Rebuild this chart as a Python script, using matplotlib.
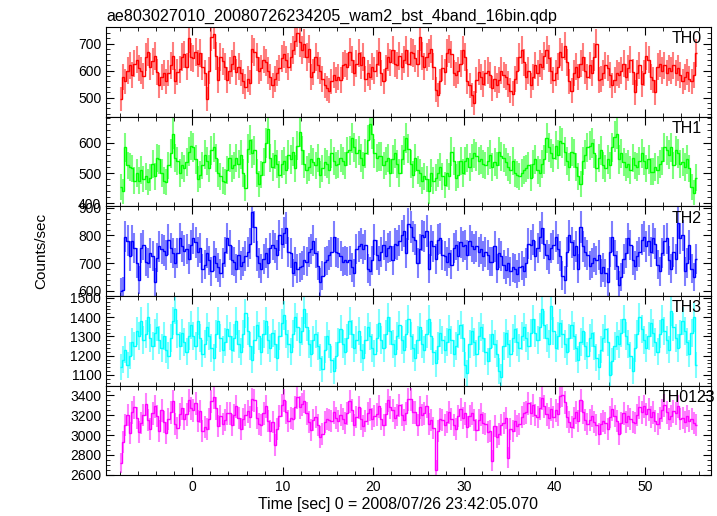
import numpy as np
import matplotlib
matplotlib.use('Agg')
import matplotlib.pyplot as plt
from matplotlib.ticker import MultipleLocator

plt.rcParams['font.family'] = ['Liberation Sans', 'DejaVu Sans']

title = 'ae803027010_20080726234205_wam2_bst_4band_16bin.qdp'
xlabel = 'Time [sec] 0 = 2008/07/26 23:42:05.070'
t_start = -8.0   # first bin edge (sec)
binsize = 0.25   # sec

# count rates (counts/sec), 4 s per row
th0 = [
    495, 575, 560, 600, 620, 585, 625, 640, 610, 600, 580, 650, 670, 615, 635, 655,
    595, 545, 575, 590, 560, 590, 620, 655, 560, 595, 605, 650, 660, 615, 720, 650,
    645, 670, 625, 665, 615, 590, 495, 600, 725, 735, 655, 565, 650, 635, 615, 565,
    600, 625, 655, 595, 615, 590, 560, 540, 570, 555, 680, 670, 650, 600, 610, 640,
    630, 600, 575, 545, 570, 590, 610, 645, 660, 640, 615, 650, 675, 710, 740, 705,
    675, 700, 650, 680, 575, 595, 650, 620, 600, 570, 545, 535, 525, 560, 585, 565,
    575, 565, 620, 625, 615, 670, 640, 590, 625, 665, 620, 650, 570, 590, 575, 615,
    600, 625, 670, 590, 560, 610, 650, 630, 675, 625, 620, 655, 615, 640, 675, 625,
    670, 665, 645, 625, 725, 655, 615, 650, 665, 680, 615, 530, 510, 560, 610, 595,
    665, 680, 660, 590, 585, 600, 625, 675, 650, 560, 545, 510, 480, 565, 595, 575,
    550, 590, 600, 585, 535, 570, 545, 565, 600, 585, 575, 550, 525, 515, 570, 600,
    650, 675, 630, 575, 600, 545, 575, 620, 590, 625, 615, 655, 675, 645, 600, 565,
    590, 615, 670, 650, 690, 630, 560, 525, 590, 615, 575, 625, 650, 600, 575, 620,
    590, 650, 700, 565, 570, 590, 620, 610, 585, 545, 565, 590, 585, 600, 625, 575,
    610, 640, 595, 520, 590, 620, 550, 590, 655, 640, 575, 565, 520, 615, 625, 600,
    620, 590, 610, 600, 620, 590, 610, 585, 560, 575, 595, 570, 560, 585, 665,
]
th1 = [
    455, 440, 585, 525, 520, 515, 475, 500, 475, 510, 480, 490, 470, 485, 530, 490,
    550, 545, 500, 475, 470, 525, 565, 630, 550, 540, 500, 525, 515, 535, 570, 590,
    585, 545, 480, 495, 525, 560, 540, 515, 575, 585, 550, 500, 490, 475, 470, 510,
    550, 515, 525, 550, 530, 560, 500, 450, 580, 610, 565, 575, 500, 465, 495, 535,
    600, 645, 550, 520, 560, 530, 495, 530, 540, 510, 560, 545, 570, 515, 590, 635,
    575, 530, 510, 520, 545, 535, 525, 550, 495, 515, 535, 530, 510, 565, 540, 525,
    530, 550, 540, 525, 570, 575, 615, 585, 565, 575, 550, 525, 565, 610, 660, 630,
    565, 550, 555, 555, 525, 540, 550, 500, 545, 565, 530, 500, 545, 575, 615, 580,
    530, 495, 550, 510, 500, 475, 490, 480, 440, 500, 475, 485, 500, 520, 490, 460,
    500, 490, 570, 540, 485, 495, 540, 500, 540, 550, 520, 550, 565, 555, 540, 545,
    530, 525, 540, 560, 520, 535, 525, 570, 555, 550, 535, 520, 510, 540, 500, 495,
    490, 500, 510, 515, 525, 485, 530, 545, 510, 500, 530, 545, 615, 585, 565, 550,
    590, 560, 605, 600, 570, 540, 520, 570, 565, 520, 490, 465, 540, 560, 585, 590,
    600, 565, 515, 550, 575, 525, 515, 545, 525, 585, 620, 630, 545, 565, 535, 520,
    530, 510, 550, 525, 520, 540, 565, 540, 515, 545, 505, 505, 520, 510, 530, 540,
    585, 575, 560, 585, 525, 575, 565, 530, 535, 520, 545, 515, 455, 435, 485,
]
th2 = [
    598, 602, 795, 780, 725, 780, 755, 700, 640, 755, 765, 705, 700, 735, 725, 632,
    720, 760, 750, 745, 730, 785, 755, 735, 700, 735, 790, 760, 745, 750, 715, 765,
    790, 775, 740, 755, 680, 695, 735, 710, 670, 725, 700, 685, 665, 700, 740, 790,
    765, 710, 705, 680, 730, 690, 705, 725, 740, 770, 885, 830, 725, 700, 680, 715,
    735, 700, 755, 765, 755, 730, 800, 770, 810, 825, 740, 735, 665, 705, 680, 685,
    690, 710, 705, 740, 750, 780, 735, 690, 632, 655, 705, 710, 730, 740, 795, 740,
    735, 725, 705, 710, 705, 710, 685, 665, 750, 760, 770, 750, 765, 680, 670, 710,
    785, 730, 710, 740, 765, 725, 755, 760, 710, 770, 765, 780, 800, 815, 735, 840,
    830, 795, 785, 700, 750, 800, 795, 815, 680, 780, 760, 715, 785, 790, 730, 725,
    705, 735, 695, 755, 765, 725, 775, 760, 765, 730, 780, 760, 750, 760, 740, 750,
    725, 740, 730, 705, 705, 760, 680, 735, 725, 695, 675, 700, 670, 685, 680, 660,
    685, 690, 670, 700, 770, 765, 785, 725, 755, 795, 825, 770, 730, 715, 755, 765,
    795, 750, 725, 655, 640, 740, 800, 775, 730, 760, 680, 830, 760, 740, 730, 690,
    700, 720, 710, 730, 665, 685, 665, 632, 740, 795, 730, 690, 620, 650, 715, 735,
    790, 765, 710, 690, 725, 740, 785, 795, 760, 780, 740, 790, 770, 695, 670, 735,
    780, 790, 710, 680, 740, 715, 845, 790, 800, 670, 700, 765, 680, 650, 715,
]
th3 = [
    1140, 1180, 1230, 1150, 1200, 1270, 1250, 1330, 1300, 1380, 1280, 1310, 1400, 1290, 1250, 1320,
    1350, 1280, 1240, 1300, 1230, 1200, 1290, 1380, 1440, 1310, 1250, 1320, 1270, 1220, 1300, 1360,
    1300, 1250, 1380, 1290, 1210, 1260, 1350, 1300, 1240, 1190, 1310, 1380, 1290, 1230, 1270, 1340,
    1300, 1230, 1290, 1380, 1260, 1220, 1310, 1420, 1330, 1250, 1180, 1280, 1360, 1300, 1220, 1310,
    1380, 1280, 1240, 1320, 1260, 1190, 1300, 1370, 1410, 1310, 1260, 1220, 1310, 1400, 1350, 1270,
    1330, 1440, 1350, 1260, 1210, 1280, 1310, 1250, 1190, 1130, 1230, 1300, 1260, 1180, 1120, 1200,
    1270, 1340, 1260, 1220, 1290, 1380, 1310, 1240, 1280, 1330, 1230, 1190, 1280, 1350, 1300, 1240,
    1210, 1290, 1370, 1280, 1240, 1310, 1400, 1330, 1260, 1210, 1300, 1360, 1280, 1230, 1310, 1390,
    1300, 1240, 1190, 1280, 1350, 1260, 1230, 1310, 1390, 1300, 1220, 1160, 1250, 1320, 1280, 1230,
    1270, 1340, 1280, 1210, 1250, 1310, 1360, 1290, 1150, 1110, 1260, 1330, 1270, 1210, 1300, 1350,
    1290, 1220, 1170, 1240, 1310, 1260, 1210, 1120, 1090, 1250, 1320, 1260, 1210, 1290, 1340, 1270,
    1240, 1300, 1350, 1290, 1250, 1320, 1390, 1320, 1280, 1350, 1440, 1360, 1290, 1260, 1460, 1330,
    1240, 1300, 1370, 1310, 1260, 1220, 1290, 1360, 1300, 1240, 1180, 1270, 1330, 1250, 1200, 1290,
    1320, 1250, 1190, 1140, 1230, 1290, 1340, 1270, 1100, 1170, 1250, 1300, 1260, 1320, 1390, 1300,
    1260, 1200, 1120, 1240, 1310, 1400, 1340, 1280, 1240, 1300, 1370, 1320, 1270, 1220, 1310, 1390,
    1330, 1280, 1230, 1430, 1350, 1290, 1240, 1310, 1380, 1330, 1270, 1210, 1320, 1400, 1150,
]
th0123 = [
    2720, 2930, 3100, 3200, 3020, 3230, 3280, 3170, 3030, 3120, 3200, 3310, 3150, 3060, 3220, 3290,
    3190, 3040, 3250, 3130, 3020, 3160, 3230, 3340, 3110, 3070, 3210, 3270, 3160, 3210, 3350, 3270,
    3250, 3320, 3140, 3240, 3040, 3080, 3060, 3160, 3340, 3380, 3270, 3090, 3190, 3110, 3150, 3220,
    3220, 3100, 3200, 3290, 3170, 3060, 3160, 3200, 3240, 3180, 3360, 3350, 3170, 3110, 3100, 3220,
    3290, 3140, 3040, 3130, 2900, 3060, 3190, 3300, 3350, 3230, 3140, 3170, 3160, 3280, 3380, 3280,
    3310, 3340, 3220, 3130, 3050, 3150, 3180, 3100, 2980, 3010, 3130, 3160, 3150, 3140, 3230, 3170,
    3140, 3200, 3160, 3120, 3220, 3340, 3250, 3100, 3180, 3280, 3160, 3090, 3140, 3220, 3260, 3160,
    3190, 3210, 3290, 3160, 3100, 3210, 3350, 3280, 3250, 3170, 3200, 3300, 3200, 3150, 3220, 3360,
    3360, 3230, 3230, 3100, 3280, 3200, 3220, 3290, 3110, 3150, 3070, 2650, 3040, 3160, 3150, 3100,
    3130, 3230, 3160, 3100, 3060, 3190, 3260, 3170, 3220, 3080, 3190, 3220, 3150, 3050, 3150, 3210,
    3120, 3110, 3030, 3040, 2740, 3090, 2980, 3010, 3100, 3120, 3170, 2770, 3060, 3040, 3140, 3090,
    3110, 3180, 3220, 3230, 3320, 3220, 3300, 3200, 3180, 3270, 3370, 3290, 3210, 3170, 3260, 3180,
    3250, 3210, 3390, 3400, 3330, 3180, 3130, 3080, 3170, 3230, 3140, 3350, 3230, 3150, 3110, 3150,
    3190, 3130, 3100, 3010, 3110, 3140, 3120, 3060, 3180, 3260, 3190, 3140, 3010, 3120, 3220, 3130,
    3190, 3160, 3130, 3120, 3200, 3280, 3230, 3290, 3210, 3260, 3180, 3230, 3140, 3110, 3170, 3250,
    3300, 3230, 3160, 3190, 3240, 3220, 3290, 3160, 3170, 3130, 3190, 3140, 3160, 3120, 3100,
]

names = ['TH0', 'TH1', 'TH2', 'TH3', 'TH0123']
series = [th0, th1, th2, th3, th0123]
colors = ['#ff0000', '#00ff00', '#0000ff', '#00ffff', '#ff00ff']
ylims = [(430, 762), (391, 686), (582, 905), (1045, 1510), (2595, 3500)]
majors = [100, 100, 100, 100, 200]
minors = [20, 20, 20, 20, 50]

fig, axes = plt.subplots(5, 1, sharex=True, figsize=(7.17, 5.16), dpi=100)
fig.subplots_adjust(left=0.148, right=0.992, top=0.948, bottom=0.079, hspace=0)

for ax, name, y, c, yl, mj, mn in zip(axes, names, series, colors, ylims, majors, minors):
    y = np.asarray(y, dtype=float)
    edges = t_start + binsize * np.arange(len(y) + 1)
    tc = 0.5 * (edges[:-1] + edges[1:])
    err = np.sqrt(y * binsize) / binsize  # poisson error on rate
    ax.errorbar(tc, y, yerr=err, fmt='none', ecolor=c, elinewidth=1.5, alpha=0.5)
    ax.stairs(y, edges, baseline=None, color=c, lw=1.0)
    ax.set_ylim(*yl)
    ax.yaxis.set_major_locator(MultipleLocator(mj))
    ax.yaxis.set_minor_locator(MultipleLocator(mn))
    ax.text(0.96, 0.95, name, transform=ax.transAxes, ha='center', va='top', fontsize=11.5)
    ax.tick_params(which='both', direction='in', top=True, right=True, labelsize=10)
    ax.tick_params(which='major', length=6)
    ax.tick_params(which='minor', length=3)

axes[-1].set_xlim(-9.5, 57.3)
axes[-1].xaxis.set_major_locator(MultipleLocator(10))
axes[-1].xaxis.set_minor_locator(MultipleLocator(2))
axes[-1].set_xlabel(xlabel, fontsize=11.4, labelpad=2, x=0.483)
axes[0].set_title(title, loc='left', fontsize=11.6, pad=4)
fig.text(0.058, 0.513, 'Counts/sec', rotation=90, ha='center', va='center', fontsize=11)

fig.savefig('out.png', dpi=100)
